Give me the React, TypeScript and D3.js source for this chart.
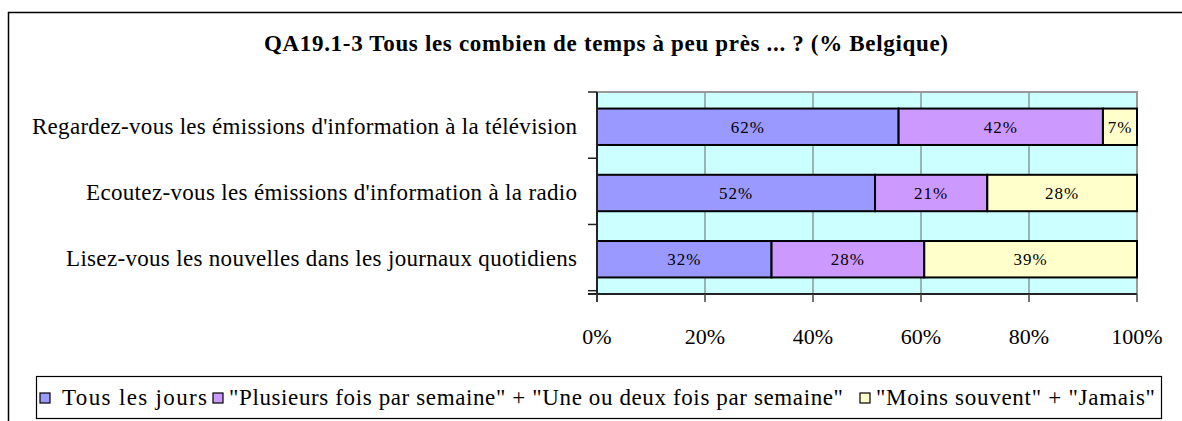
import * as d3 from 'd3';

const TITLE = 'QA19.1-3 Tous les combien de temps à peu près ... ? (% Belgique)';

const categories = [
    "Regardez-vous les émissions d'information à la télévision",
    "Ecoutez-vous les émissions d'information à la radio",
    'Lisez-vous les nouvelles dans les journaux quotidiens',
];

const seriesNames = [
    'Tous les jours',
    '"Plusieurs fois par semaine" + "Une ou deux fois par semaine"',
    '"Moins souvent" + "Jamais"',
];

const dailyValues = [62, 52, 32];
const weeklyValues = [42, 21, 28];
const rarelyValues = [7, 28, 39];

const xTicks = [0, 0.2, 0.4, 0.6, 0.8, 1];

const COLORS = ['#9999FF', '#CC99FF', '#FFFFCC'];
const FONT = '"Liberation Serif", "Times New Roman", serif';

const PLOT = { left: 597, right: 1137, top: 92, bottom: 294 };
// the source was set with loose letter spacing, so pin the widths
const CAT_WIDTHS = [545, 491, 511];
const LEGEND_MARK_X = [40, 213, 860];
const LEGEND_TEXT_X = [62, 229, 876];
const LEGEND_WIDTHS = [145, 614, 279];

export default function App() {
    const width = 1182,
        height = 421;

    const rows = categories.map((c, i) => ({
        cat: c,
        s0: dailyValues[i],
        s1: weeklyValues[i],
        s2: rarelyValues[i],
    }));
    const keys = ['s0', 's1', 's2'];
    const raw = [dailyValues, weeklyValues, rarelyValues];

    const stacked = d3
        .stack<any>()
        .keys(keys)
        .offset(d3.stackOffsetExpand)(rows);

    const xScale = d3.scaleLinear().domain([0, 1]).range([PLOT.left, PLOT.right]);
    const yScale = d3
        .scaleBand()
        .domain(categories)
        .range([PLOT.top, PLOT.bottom])
        .paddingInner(0.45)
        .paddingOuter(0.25);

    const step = yScale.step();
    const boundaries = d3.range(categories.length + 1).map((i) => PLOT.top + i * step);

    return (
        <svg
            width={width}
            height={height}
            style={{ position: 'absolute', left: 0, top: 0, fontFamily: FONT }}
        >
            <rect x={0} y={0} width={width} height={height} fill="#fff" />
            {/* outer frame (only left and top visible) */}
            <rect x={8.5} y={12.5} width={1300} height={500} fill="none" stroke="#000" strokeWidth={1.5} />

            <text
                x={264}
                y={51}
                fontSize={23}
                fontWeight="bold"
                textLength={684}
                lengthAdjust="spacing"
            >
                {TITLE}
            </text>

            {/* plot background */}
            <rect
                x={PLOT.left}
                y={PLOT.top}
                width={PLOT.right - PLOT.left}
                height={PLOT.bottom - PLOT.top}
                fill="#CCFFFF"
            />
            {xTicks.slice(1, -1).map((t) => (
                <line
                    key={t}
                    x1={xScale(t)}
                    x2={xScale(t)}
                    y1={PLOT.top}
                    y2={PLOT.bottom}
                    stroke="#666"
                    strokeWidth={1}
                />
            ))}
            <path
                d={`M${PLOT.left},${PLOT.top}H${PLOT.right}V${PLOT.bottom}`}
                fill="none"
                stroke="#999"
                strokeWidth={2}
            />

            {/* bars */}
            {stacked.map((layer, si) =>
                layer.map((d, ci) => {
                    const x0 = xScale(d[0]);
                    const x1 = xScale(d[1]);
                    const y = yScale(categories[ci])!;
                    return (
                        <g key={`${si}-${ci}`}>
                            <rect
                                x={x0}
                                y={y}
                                width={x1 - x0}
                                height={yScale.bandwidth()}
                                fill={COLORS[si]}
                                stroke="#000"
                                strokeWidth={2}
                            />
                            <text
                                x={(x0 + x1) / 2}
                                y={y + yScale.bandwidth() / 2 + 6}
                                textAnchor="middle"
                                fontSize={17}
                                letterSpacing={1}
                            >
                                {raw[si][ci]}%
                            </text>
                        </g>
                    );
                })
            )}

            {/* y axis */}
            <line x1={PLOT.left} x2={PLOT.left} y1={PLOT.top} y2={PLOT.bottom + 8} stroke="#222" strokeWidth={2} />
            {boundaries.map((b, i) => (
                <line key={i} x1={PLOT.left - 9} x2={PLOT.left} y1={b} y2={b} stroke="#222" strokeWidth={1.5} />
            ))}
            {categories.map((c, i) => (
                <text
                    key={c}
                    x={577 - CAT_WIDTHS[i]}
                    y={yScale(c)! + yScale.bandwidth() / 2 + 7}
                    fontSize={23}
                    textLength={CAT_WIDTHS[i]}
                    lengthAdjust="spacing"
                >
                    {c}
                </text>
            ))}

            {/* x axis */}
            <line x1={PLOT.left - 9} x2={PLOT.right} y1={PLOT.bottom} y2={PLOT.bottom} stroke="#222" strokeWidth={2} />
            {xTicks.map((t) => (
                <g key={t}>
                    <line x1={xScale(t)} x2={xScale(t)} y1={PLOT.bottom} y2={PLOT.bottom + 8} stroke="#444" strokeWidth={1.5} />
                    <text x={xScale(t)} y={344} textAnchor="middle" fontSize={22}>
                        {d3.format('.0%')(t)}
                    </text>
                </g>
            ))}

            {/* legend */}
            <rect x={36.5} y={376.5} width={1125} height={42} fill="#fff" stroke="#000" strokeWidth={1.2} />
            {seriesNames.map((s, i) => (
                <g key={s}>
                    <rect
                        x={LEGEND_MARK_X[i]}
                        y={393}
                        width={10}
                        height={10}
                        fill={COLORS[i]}
                        stroke="#000"
                        strokeWidth={1.2}
                    />
                    <text
                        x={LEGEND_TEXT_X[i]}
                        y={405}
                        fontSize={23}
                        textLength={LEGEND_WIDTHS[i]}
                        lengthAdjust="spacing"
                    >
                        {s}
                    </text>
                </g>
            ))}
        </svg>
    );
}
